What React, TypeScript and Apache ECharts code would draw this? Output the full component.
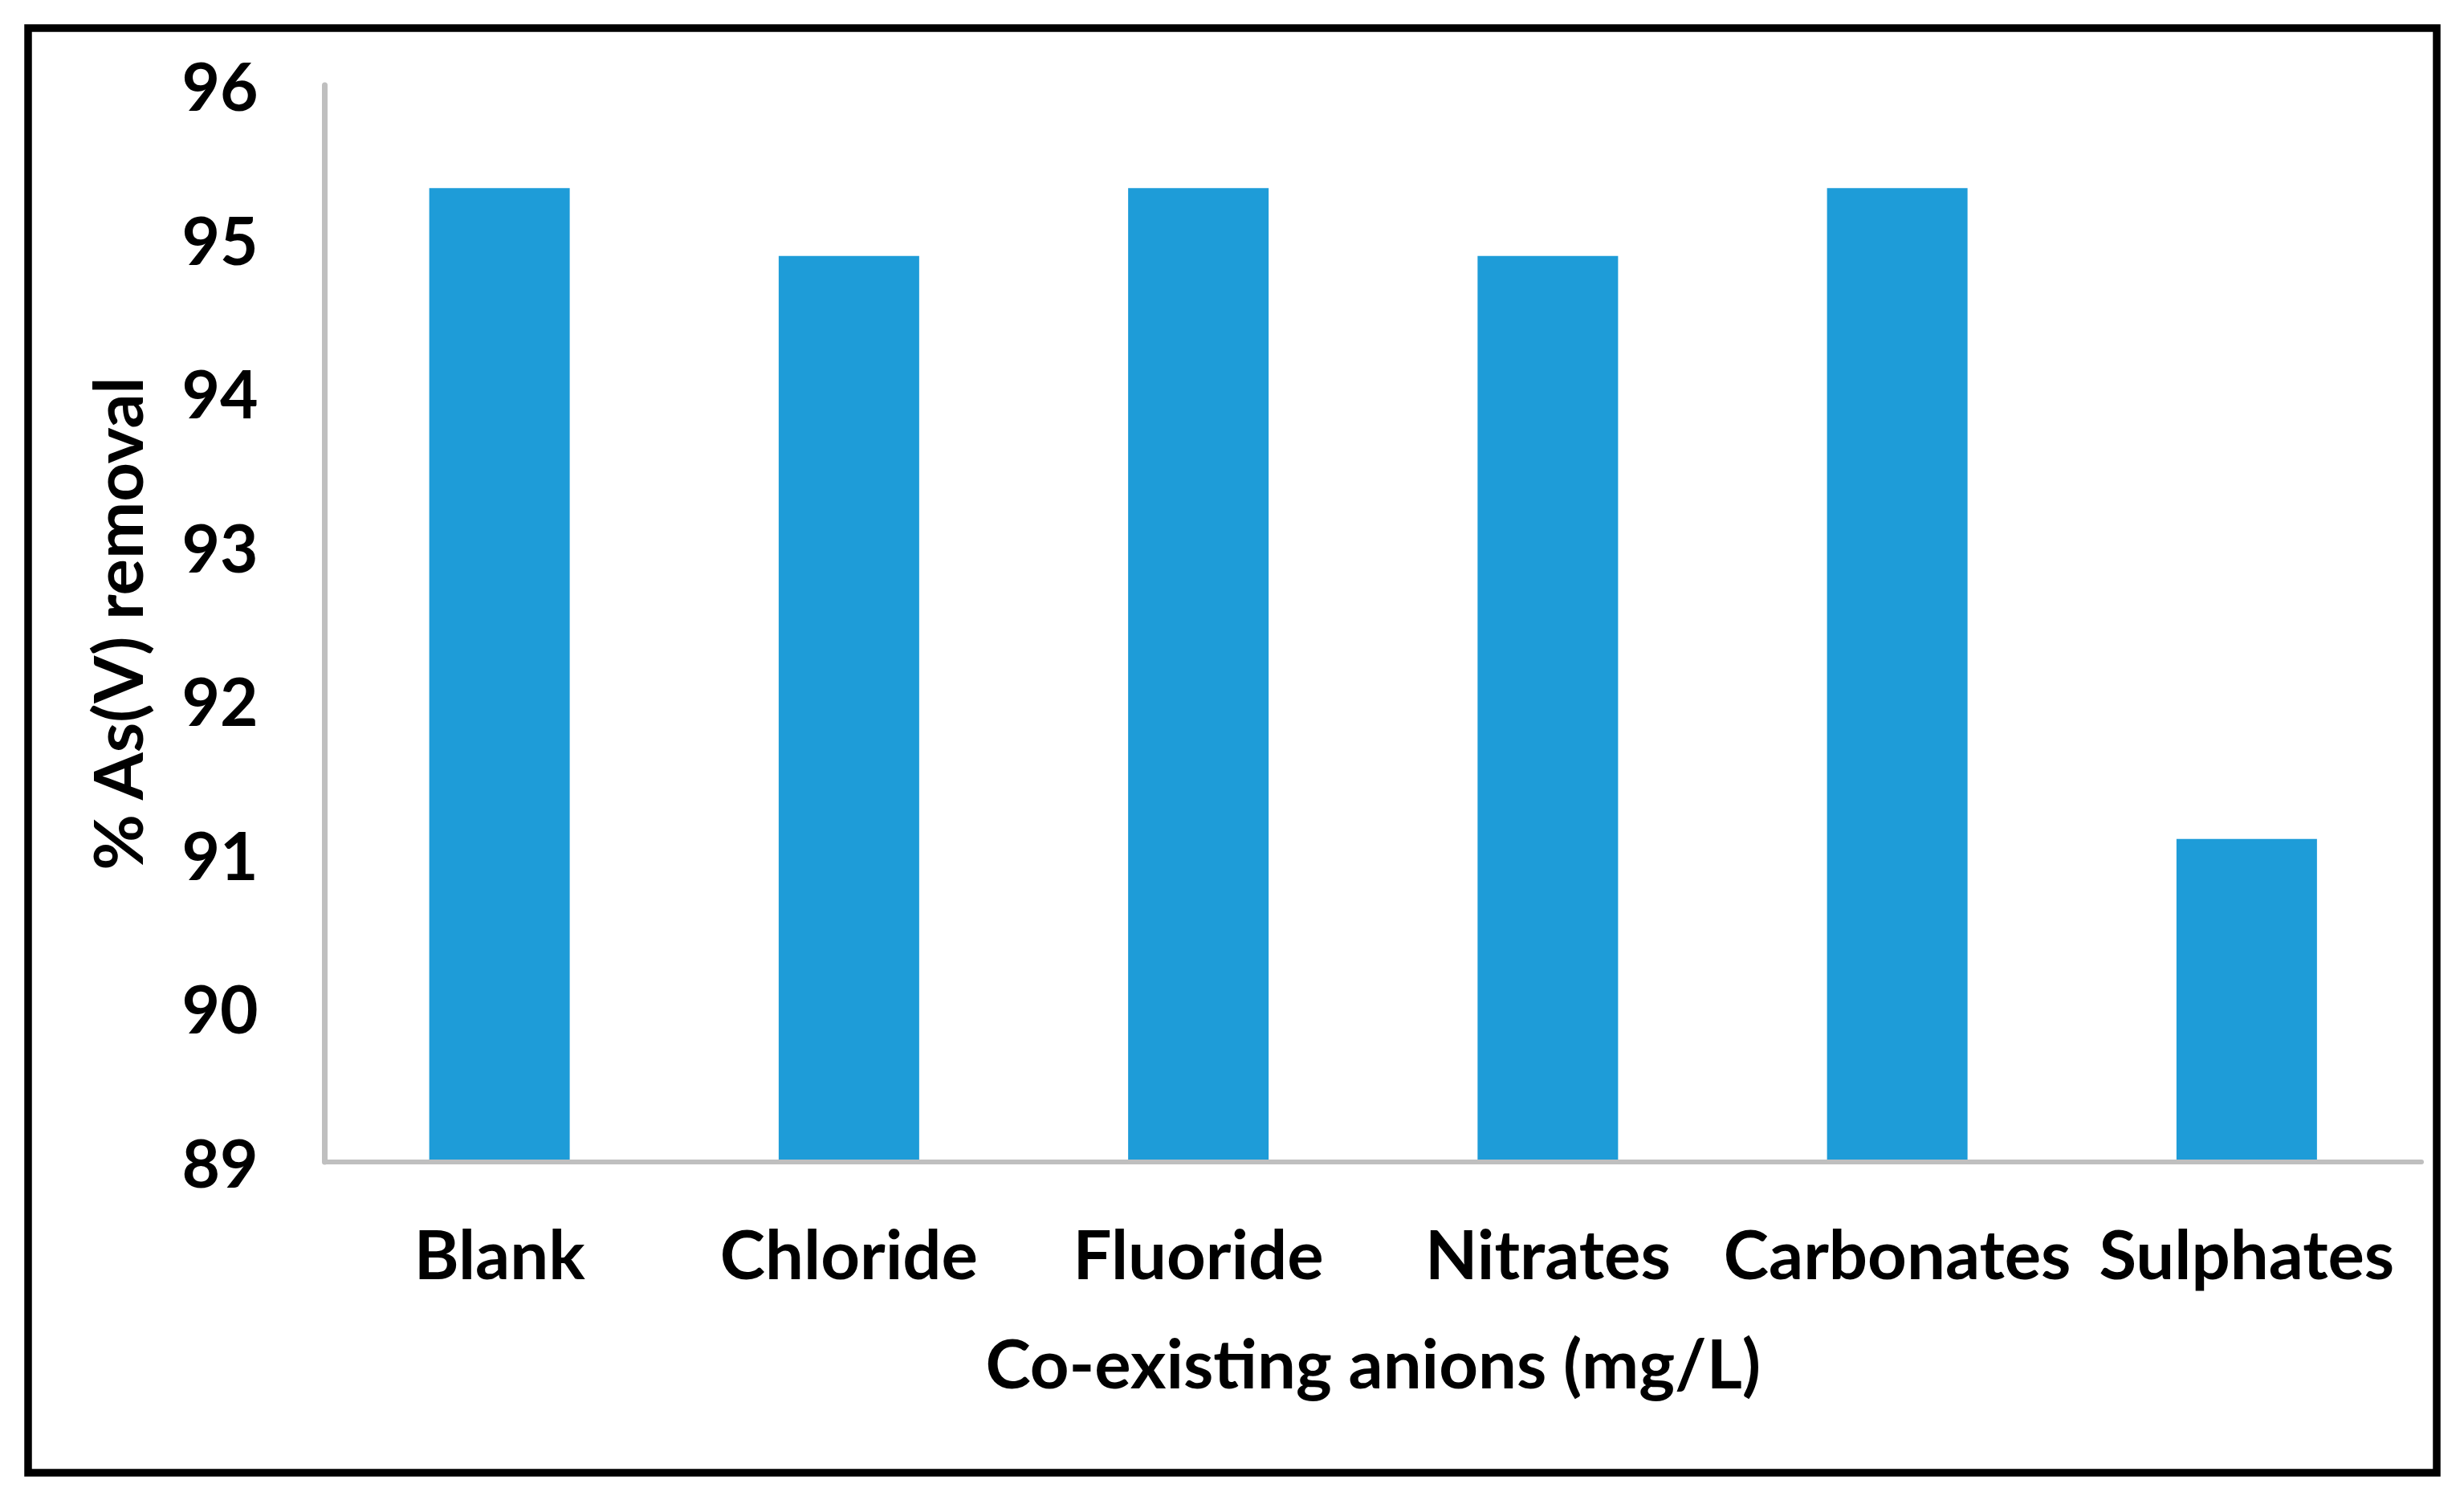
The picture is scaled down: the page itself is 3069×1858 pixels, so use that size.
import React, { useEffect, useRef } from "react";
import * as echarts from "echarts";

const categories = ["Blank", "Chloride", "Fluoride", "Nitrates", "Carbonates", "Sulphates"];
const removal = [95.33, 94.89, 95.33, 94.89, 95.33, 91.1];
const yMin = 89;
const yMax = 96;
const yInterval = 1;
const xTitle = "Co-existing anions (mg/L)";
const yTitle = "% As(V) removal";

const FONT = "Lato";

export default function App() {
  const ref = useRef<HTMLDivElement>(null);
  useEffect(() => {
    if (!ref.current) return;
    const chart = echarts.init(ref.current, undefined, { renderer: "svg" });
    chart.setOption({
      animation: false,
      backgroundColor: "#ffffff",
      grid: { left: 404.5, right: 53, top: 106, bottom: 411, containLabel: false },
      xAxis: {
        type: "category",
        data: categories,
        z: 5,
        axisLine: { show: true, lineStyle: { color: "#BFBFBF", width: 6 } },
        axisTick: { show: false },
        axisLabel: {
          margin: 73,
          color: "#000",
          fontFamily: FONT,
          fontWeight: "bold",
          fontSize: 85,
          lineHeight: 80,
          interval: 0,
        },
        name: xTitle,
        nameLocation: "middle",
        nameGap: 209,
        nameTextStyle: {
          color: "#000",
          fontFamily: FONT,
          fontWeight: "bold",
          fontSize: 85,
          lineHeight: 80,
        },
        splitLine: { show: false },
      },
      yAxis: {
        type: "value",
        min: yMin,
        max: yMax,
        interval: yInterval,
        axisLine: { show: true, lineStyle: { color: "#BFBFBF", width: 7 } },
        axisTick: { show: false },
        splitLine: { show: false },
        axisLabel: {
          margin: 83,
          color: "#000",
          fontFamily: FONT,
          fontWeight: "bold",
          fontSize: 82,
          lineHeight: 80,
        },
        name: yTitle,
        nameLocation: "middle",
        nameGap: 220,
        nameTextStyle: {
          color: "#000",
          fontFamily: FONT,
          fontWeight: "bold",
          fontSize: 85,
          lineHeight: 80,
        },
      },
      series: [
        {
          type: "bar",
          data: removal,
          barWidth: 175,
          itemStyle: { color: "#1E9CD8" },
        },
      ],
      graphic: [
        {
          type: "rect",
          shape: { x: 35, y: 35, width: 3000, height: 1799 },
          style: { fill: "none", stroke: "#000", lineWidth: 9.5 },
          z: 10,
        },
      ],
    });
    return () => chart.dispose();
  }, []);
  return (
    <div
      ref={ref}
      style={{ position: "absolute", left: 0, top: 0, width: 3069, height: 1858 }}
    />
  );
}
